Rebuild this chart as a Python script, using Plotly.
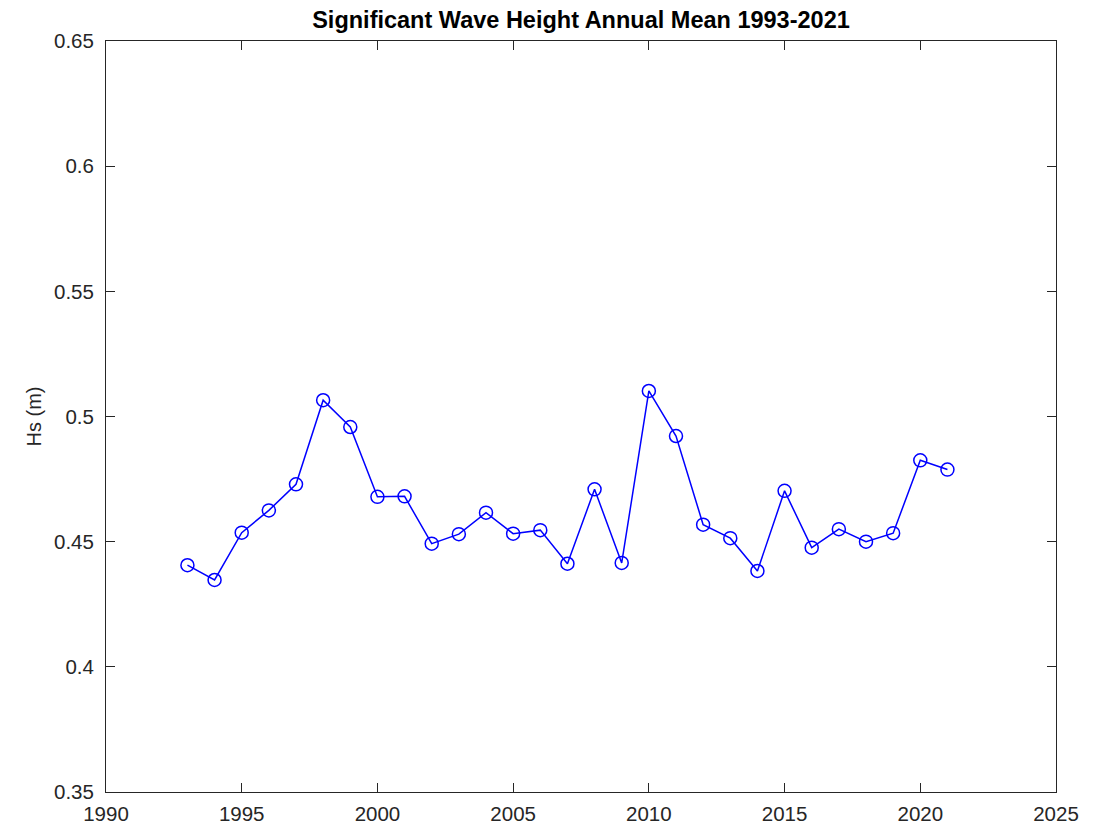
import plotly.graph_objects as go

years = list(range(1993, 2022))
hs_mean = [0.4406, 0.4347, 0.4536, 0.4625, 0.4729, 0.5065, 0.4958, 0.4679, 0.4681,
           0.4492, 0.4530, 0.4616, 0.4532, 0.4546, 0.4412, 0.4709, 0.4415, 0.5102,
           0.4922, 0.4568, 0.4514, 0.4383, 0.4703, 0.4476, 0.4550, 0.4500, 0.4534,
           0.4825, 0.4788]

x_ticks = [1990, 1995, 2000, 2005, 2010, 2015, 2020, 2025]
y_ticks = [0.35, 0.4, 0.45, 0.5, 0.55, 0.6, 0.65]
y_tick_labels = ["0.35", "0.4", "0.45", "0.5", "0.55", "0.6", "0.65"]

axis_color = "#262626"
font_family = "Liberation Sans, Arial, Helvetica, sans-serif"
off = 7  # page offset of the plot in the screenshot

fig = go.Figure()
fig.add_trace(go.Scatter(
    x=years, y=hs_mean, mode="lines+markers",
    line=dict(color="#0000ff", width=1.5),
    marker=dict(symbol="circle-open", size=13, color="#0000ff", line=dict(width=1.5)),
    showlegend=False,
))

fig.update_layout(
    width=1106, height=826,
    margin=dict(l=105 - off, r=51 + off, t=40 - off, b=35 + off, pad=0),
    paper_bgcolor="white", plot_bgcolor="white",
    font=dict(family=font_family, color=axis_color, size=20),
    title=dict(text="<b>Significant Wave Height Annual Mean 1993-2021</b>",
               x=0.5, xanchor="center", xref="paper",
               y=1 - (19 - off) / 826, yanchor="middle",
               font=dict(size=23.5, color="black")),
)
fig.update_xaxes(
    range=[1990, 2025], tickvals=x_ticks, ticktext=[str(v) for v in x_ticks],
    showgrid=False, zeroline=False, showline=True, linecolor=axis_color, linewidth=1,
    mirror="allticks", ticks="inside", ticklen=9, tickwidth=1, tickcolor=axis_color,
    tickfont=dict(size=20.5, color=axis_color), ticklabelstandoff=3, automargin=False,
)
fig.update_yaxes(
    range=[0.35, 0.65], tickvals=y_ticks, ticktext=y_tick_labels,
    showgrid=False, zeroline=False, showline=True, linecolor=axis_color, linewidth=1,
    mirror="allticks", ticks="inside", ticklen=9, tickwidth=1, tickcolor=axis_color,
    tickfont=dict(size=20.5, color=axis_color), ticklabelstandoff=7, automargin=False,
    title=dict(text="Hs (m)", font=dict(size=20, color=axis_color), standoff=6),
)

fig.write_html("out.html")
